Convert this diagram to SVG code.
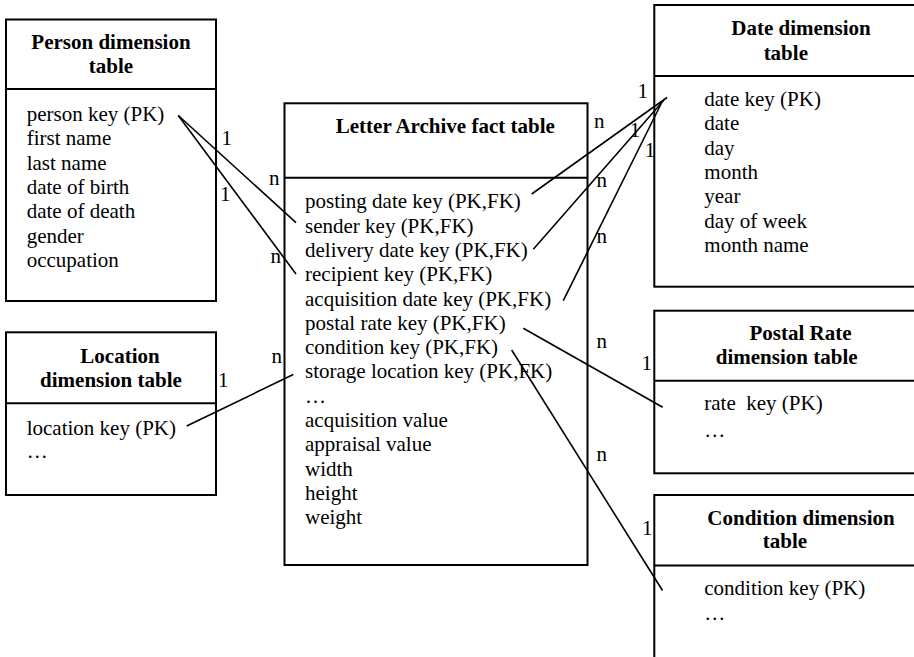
<svg xmlns="http://www.w3.org/2000/svg" width="914" height="657" viewBox="0 0 914 657">
  <style>
    .box { fill: #ffffff; stroke: #000000; stroke-width: 2; }
    .div { stroke: #000000; stroke-width: 2; }
    text { font-family: 'Liberation Serif', 'DejaVu Serif', serif; font-size: 21px; fill: #000000; }
    .title { font-weight: bold; text-anchor: middle; }
    .card { text-anchor: middle; }
    .link { stroke: #000000; stroke-width: 1.6; fill: none; }
  </style>
  <rect width="914" height="657" fill="#ffffff"/>

  <!-- Person dimension -->
  <g id="person">
    <rect class="box" x="6" y="19.5" width="210" height="281.5"/>
    <line class="div" x1="6" y1="89" x2="216" y2="89"/>
    <text class="title" x="111" y="49">Person dimension</text>
    <text class="title" x="111" y="72.7">table</text>
    <text class="item" x="26.7" y="121">person key (PK)</text>
    <text class="item" x="26.7" y="145.3">first name</text>
    <text class="item" x="26.7" y="169.6">last name</text>
    <text class="item" x="26.7" y="193.9">date of birth</text>
    <text class="item" x="26.7" y="218.2">date of death</text>
    <text class="item" x="26.7" y="242.5">gender</text>
    <text class="item" x="26.7" y="266.8">occupation</text>
  </g>

  <!-- Location dimension -->
  <g id="location">
    <rect class="box" x="6" y="332.3" width="210" height="162.7"/>
    <line class="div" x1="6" y1="403.3" x2="216" y2="403.3"/>
    <text class="title" x="120" y="363.3">Location</text>
    <text class="title" x="111" y="387.3">dimension table</text>
    <text class="item" x="26.7" y="435">location key (PK)</text>
    <text class="item" x="26.7" y="458">…</text>
  </g>

  <!-- Letter Archive fact table -->
  <g id="fact">
    <rect class="box" x="284.5" y="103.3" width="303" height="461.7"/>
    <line class="div" x1="284.5" y1="177.8" x2="587.5" y2="177.8"/>
    <text class="title" x="445.3" y="133.3">Letter Archive fact table</text>
    <text class="item" x="305" y="208.3">posting date key (PK,FK)</text>
    <text class="item" x="305" y="232.6">sender key (PK,FK)</text>
    <text class="item" x="305" y="256.9">delivery date key (PK,FK)</text>
    <text class="item" x="305" y="281.2">recipient key (PK,FK)</text>
    <text class="item" x="305" y="305.5">acquisition date key (PK,FK)</text>
    <text class="item" x="305" y="329.8">postal rate key (PK,FK)</text>
    <text class="item" x="305" y="354.1">condition key (PK,FK)</text>
    <text class="item" x="305" y="378.4">storage location key (PK,FK)</text>
    <text class="item" x="305" y="402.7">…</text>
    <text class="item" x="305" y="427">acquisition value</text>
    <text class="item" x="305" y="451.3">appraisal value</text>
    <text class="item" x="305" y="475.6">width</text>
    <text class="item" x="305" y="499.9">height</text>
    <text class="item" x="305" y="524.2">weight</text>
  </g>

  <!-- Date dimension (runs past the right edge) -->
  <g id="date">
    <rect class="box" x="654.3" y="5" width="270" height="281.7"/>
    <line class="div" x1="654.3" y1="76" x2="924" y2="76"/>
    <text class="title" x="801" y="35">Date dimension</text>
    <text class="title" x="785.8" y="60">table</text>
    <text class="item" x="704.3" y="106">date key (PK)</text>
    <text class="item" x="704.3" y="130.3">date</text>
    <text class="item" x="704.3" y="154.6">day</text>
    <text class="item" x="704.3" y="178.9">month</text>
    <text class="item" x="704.3" y="203.2">year</text>
    <text class="item" x="704.3" y="227.5">day of week</text>
    <text class="item" x="704.3" y="251.8">month name</text>
  </g>

  <!-- Postal Rate dimension -->
  <g id="postal-rate">
    <rect class="box" x="654.3" y="310.7" width="270" height="162.6"/>
    <line class="div" x1="654.3" y1="380.7" x2="924" y2="380.7"/>
    <text class="title" x="800.5" y="340">Postal Rate</text>
    <text class="title" x="786.7" y="364">dimension table</text>
    <text class="item" x="704.3" y="410" xml:space="preserve">rate  key (PK)</text>
    <text class="item" x="704.3" y="436.7">…</text>
  </g>

  <!-- Condition dimension (runs past the bottom edge) -->
  <g id="condition">
    <rect class="box" x="654.3" y="495" width="270" height="175"/>
    <line class="div" x1="654.3" y1="565.5" x2="924" y2="565.5"/>
    <text class="title" x="801" y="525">Condition dimension</text>
    <text class="title" x="785" y="548.3">table</text>
    <text class="item" x="704.3" y="595">condition key (PK)</text>
    <text class="item" x="704.3" y="620">…</text>
  </g>

  <!-- Relationship lines -->
  <g id="connectors">
    <line class="link" x1="178.3" y1="115.5" x2="296" y2="222.7"/>
    <line class="link" x1="178.3" y1="115.5" x2="296" y2="274"/>
    <line class="link" x1="186.7" y1="426" x2="293.3" y2="374.5"/>
    <line class="link" x1="531.7" y1="194" x2="667" y2="97.5"/>
    <line class="link" x1="533.3" y1="249.3" x2="664" y2="100"/>
    <line class="link" x1="563.3" y1="300.7" x2="661" y2="104"/>
    <line class="link" x1="523.3" y1="328.3" x2="662.7" y2="407.3"/>
    <line class="link" x1="511.7" y1="350" x2="662.5" y2="590.5"/>
  </g>

  <!-- Cardinality labels -->
  <g id="cardinalities">
    <text class="card" x="226.7" y="145">1</text>
    <text class="card" x="225.3" y="201">1</text>
    <text class="card" x="274.3" y="185">n</text>
    <text class="card" x="275.7" y="263.3">n</text>
    <text class="card" x="276.7" y="363">n</text>
    <text class="card" x="223.3" y="387">1</text>
    <text class="card" x="642.7" y="97.5">1</text>
    <text class="card" x="635" y="136.7">1</text>
    <text class="card" x="650" y="157">1</text>
    <text class="card" x="599.3" y="128.3">n</text>
    <text class="card" x="601.7" y="186.7">n</text>
    <text class="card" x="601.7" y="243.3">n</text>
    <text class="card" x="601.7" y="348.3">n</text>
    <text class="card" x="646.7" y="370">1</text>
    <text class="card" x="601.7" y="460.7">n</text>
    <text class="card" x="647.3" y="535">1</text>
  </g>
</svg>
